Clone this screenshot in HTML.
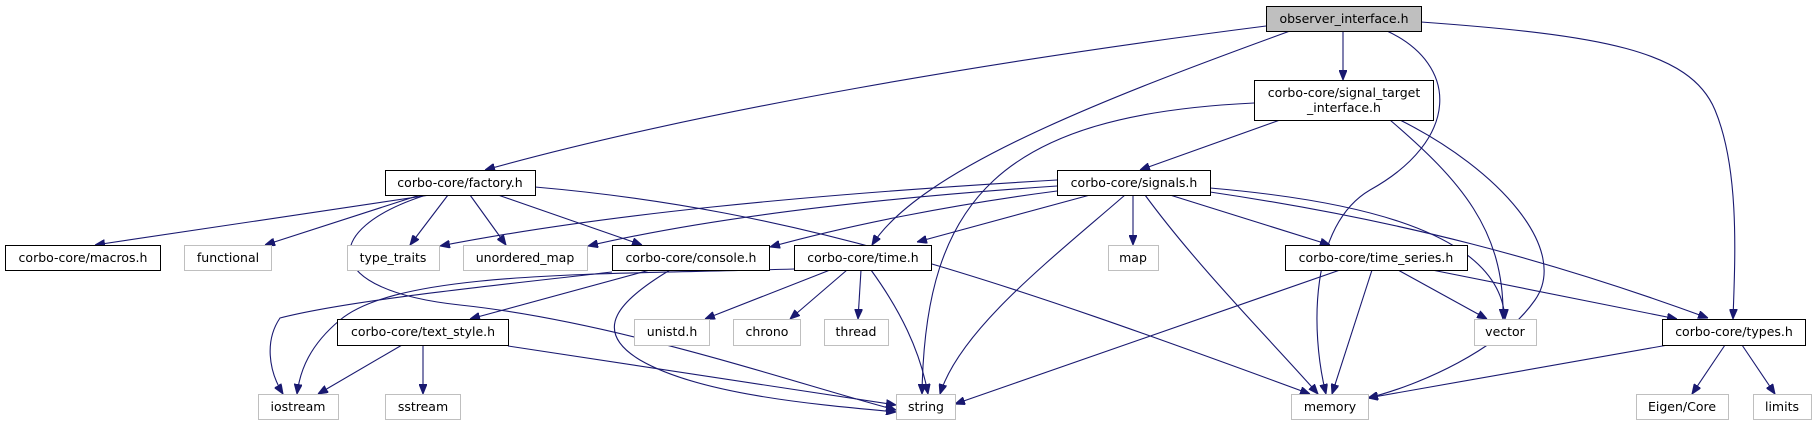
<!DOCTYPE html>
<html><head><meta charset="utf-8"><style>
html,body{margin:0;padding:0;background:#fff;}
svg{display:block;}
text{font-family:"DejaVu Sans","Liberation Sans",sans-serif;font-size:12.5px;fill:#000;}
.e{fill:none;stroke:#191970;stroke-width:1.1;}
.n{fill:#fff;stroke:#000;stroke-width:1;}
.s{fill:#fff;stroke:#bfbfbf;stroke-width:1;}
</style></head><body>
<svg width="1817" height="425" viewBox="0 0 1817 425" xmlns="http://www.w3.org/2000/svg">
<defs>
<marker id="a" viewBox="0 0 10 8" refX="10" refY="4" markerWidth="10" markerHeight="8" markerUnits="userSpaceOnUse" orient="auto">
<path d="M0,0 L10,4 L0,8 z" fill="#191970" stroke="#191970"/>
</marker>
</defs>
<g marker-end="url(#a)">
<!-- observer -->
<path class="e" d="M1266,26 C1000,60 700,110 485,170"/>
<path class="e" d="M1290,31 C1100,100 920,170 872,245"/>
<path class="e" d="M1343,31 L1343,80"/>
<path class="e" d="M1387,31 C1460,65 1460,140 1370,190 C1310,225 1310,330 1326,394"/>
<path class="e" d="M1421,22 C1600,35 1690,50 1715,110 C1740,170 1735,260 1733,319"/>
<!-- signal_target -->
<path class="e" d="M1280,120 L1140,170"/>
<path class="e" d="M1254,103 C1000,115 925,200 922,394"/>
<path class="e" d="M1390,120 C1460,180 1505,230 1503,319"/>
<path class="e" d="M1400,120 C1500,170 1570,250 1535,300 C1500,350 1420,385 1368,398"/>
<!-- factory -->
<path class="e" d="M430,195 L95,245"/>
<path class="e" d="M420,195 L265,245"/>
<path class="e" d="M448,195 L410,245"/>
<path class="e" d="M470,195 L506,245"/>
<path class="e" d="M498,195 L642,245"/>
<path class="e" d="M535,187 C800,210 1000,280 1310,394"/>
<path class="e" d="M423,196 C320,230 320,290 460,305 C620,322 800,385 896,410"/>
<!-- signals -->
<path class="e" d="M1057,180 C800,195 600,215 440,246"/>
<path class="e" d="M1057,186 C850,200 700,220 588,246"/>
<path class="e" d="M1057,191 C950,205 850,225 770,247"/>
<path class="e" d="M1090,195 L917,242"/>
<path class="e" d="M1125,195 C1050,260 960,330 940,394"/>
<path class="e" d="M1133,195 L1133,245"/>
<path class="e" d="M1145,195 C1200,270 1280,350 1318,394"/>
<path class="e" d="M1170,195 L1330,245"/>
<path class="e" d="M1210,188 C1350,200 1500,230 1505,319"/>
<path class="e" d="M1210,192 C1400,220 1550,260 1708,318"/>
<!-- console -->
<path class="e" d="M650,270 L470,319"/>
<path class="e" d="M612,272 C500,285 350,300 280,318 C265,340 268,370 283,394"/>
<path class="e" d="M670,270 C620,300 590,330 640,360 C700,395 820,405 896,412"/>
<!-- time -->
<path class="e" d="M794,269 C600,275 400,270 340,320 C310,345 300,370 297,394"/>
<path class="e" d="M830,270 L705,319"/>
<path class="e" d="M847,270 L790,319"/>
<path class="e" d="M861,270 L858,319"/>
<path class="e" d="M871,270 C900,310 920,350 928,394"/>
<!-- text_style -->
<path class="e" d="M402,345 L318,394"/>
<path class="e" d="M423,345 L423,394"/>
<path class="e" d="M508,346 L896,405"/>
<!-- time_series -->
<path class="e" d="M1340,270 L955,404"/>
<path class="e" d="M1372,270 L1332,394"/>
<path class="e" d="M1398,270 L1487,319"/>
<path class="e" d="M1432,270 L1677,319"/>
<!-- types -->
<path class="e" d="M1668,345 L1368,398"/>
<path class="e" d="M1725,345 L1692,394"/>
<path class="e" d="M1742,345 L1775,394"/>
</g>
<!-- nodes -->
<rect x="1266.5" y="6.5" width="155" height="25" fill="#bfbfbf" stroke="#000"/>
<text x="1344" y="23" text-anchor="middle">observer_interface.h</text>
<rect class="n" x="1254.5" y="80.5" width="179" height="40"/>
<text x="1344" y="97" text-anchor="middle">corbo-core/signal_target</text>
<text x="1344" y="112" text-anchor="middle">_interface.h</text>
<rect class="n" x="385.5" y="170.5" width="150" height="25"/>
<text x="460" y="187" text-anchor="middle">corbo-core/factory.h</text>
<rect class="n" x="1057.5" y="170.5" width="153" height="25"/>
<text x="1134" y="187" text-anchor="middle">corbo-core/signals.h</text>

<rect class="n" x="5.5" y="245.5" width="155" height="25"/>
<text x="83" y="262" text-anchor="middle">corbo-core/macros.h</text>
<rect class="s" x="184.5" y="245.5" width="87" height="25"/>
<text x="228" y="262" text-anchor="middle">functional</text>
<rect class="s" x="347.5" y="245.5" width="92" height="25"/>
<text x="393" y="262" text-anchor="middle">type_traits</text>
<rect class="s" x="463.5" y="245.5" width="124" height="25"/>
<text x="525" y="262" text-anchor="middle">unordered_map</text>
<rect class="n" x="612.5" y="245.5" width="157" height="25"/>
<text x="691" y="262" text-anchor="middle">corbo-core/console.h</text>
<rect class="n" x="794.5" y="245.5" width="137" height="25"/>
<text x="863" y="262" text-anchor="middle">corbo-core/time.h</text>
<rect class="s" x="1108.5" y="245.5" width="50" height="25"/>
<text x="1133" y="262" text-anchor="middle">map</text>
<rect class="n" x="1285.5" y="245.5" width="182" height="25"/>
<text x="1376" y="262" text-anchor="middle">corbo-core/time_series.h</text>

<rect class="n" x="337.5" y="319.5" width="171" height="26"/>
<text x="423" y="336" text-anchor="middle">corbo-core/text_style.h</text>
<rect class="s" x="634.5" y="319.5" width="75" height="26"/>
<text x="672" y="336" text-anchor="middle">unistd.h</text>
<rect class="s" x="733.5" y="319.5" width="67" height="26"/>
<text x="767" y="336" text-anchor="middle">chrono</text>
<rect class="s" x="824.5" y="319.5" width="64" height="26"/>
<text x="856" y="336" text-anchor="middle">thread</text>
<rect class="s" x="1474.5" y="319.5" width="62" height="26"/>
<text x="1505" y="336" text-anchor="middle">vector</text>
<rect class="n" x="1662.5" y="319.5" width="143" height="26"/>
<text x="1734" y="336" text-anchor="middle">corbo-core/types.h</text>

<rect class="s" x="258.5" y="394.5" width="80" height="25"/>
<text x="298" y="411" text-anchor="middle">iostream</text>
<rect class="s" x="385.5" y="394.5" width="75" height="25"/>
<text x="423" y="411" text-anchor="middle">sstream</text>
<rect class="s" x="896.5" y="394.5" width="59" height="25"/>
<text x="926" y="411" text-anchor="middle">string</text>
<rect class="s" x="1291.5" y="394.5" width="77" height="25"/>
<text x="1330" y="411" text-anchor="middle">memory</text>
<rect class="s" x="1636.5" y="394.5" width="92" height="25"/>
<text x="1682" y="411" text-anchor="middle">Eigen/Core</text>
<rect class="s" x="1753.5" y="394.5" width="58" height="25"/>
<text x="1782" y="411" text-anchor="middle">limits</text>
</svg>
</body></html>
